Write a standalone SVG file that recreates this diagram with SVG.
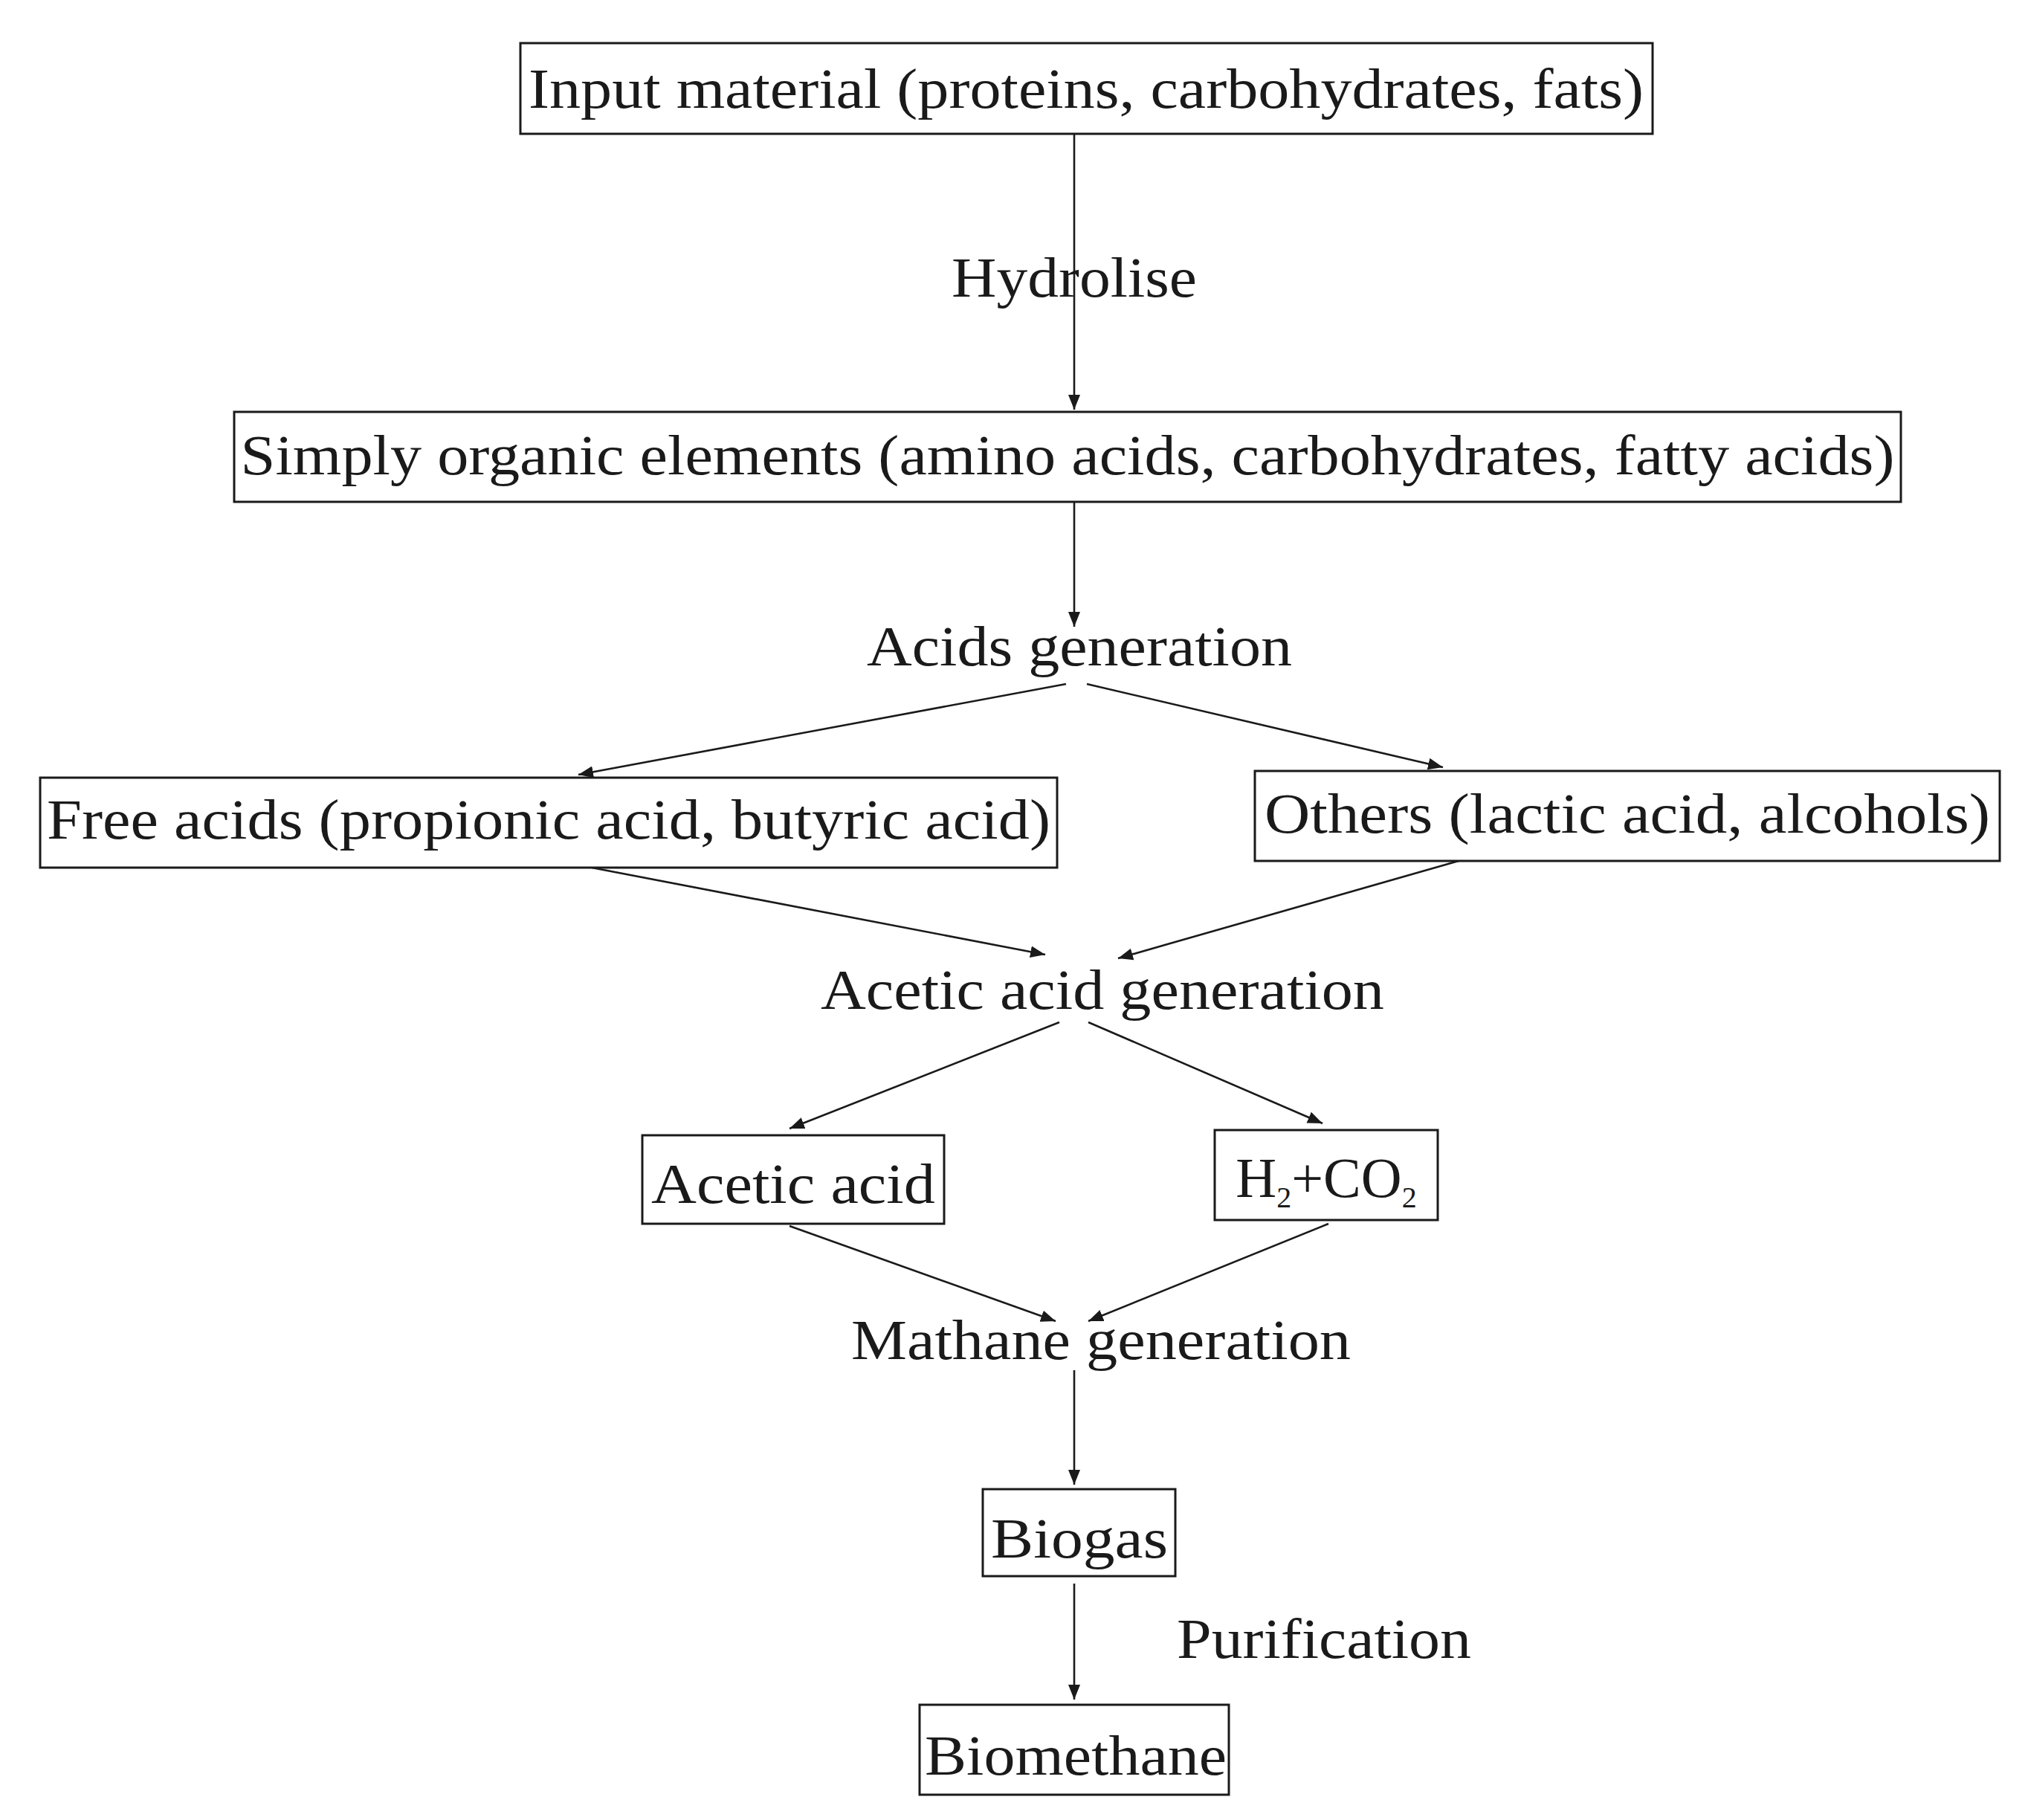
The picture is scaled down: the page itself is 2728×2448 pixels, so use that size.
<svg xmlns="http://www.w3.org/2000/svg" width="2728" height="2448" viewBox="0 0 2728 2448">
<style>
rect{fill:#fff;stroke:#1a1a1a;stroke-width:3}
text{font-family:"Liberation Serif","Times New Roman",serif;font-size:76px;fill:#1a1a1a;text-anchor:middle}
.c line{stroke:#1a1a1a;stroke-width:2.6;marker-end:url(#a)}
</style>
<defs><marker id="a" viewBox="0 0 10 10" refX="10" refY="5" markerWidth="8" markerHeight="8" markerUnits="userSpaceOnUse" orient="auto"><path d="M0,0 L10,5 L0,10 z" fill="#1a1a1a" transform="scale(1)"/></marker>
<marker id="b" viewBox="0 0 10 10" refX="10" refY="5" markerWidth="20" markerHeight="20" markerUnits="userSpaceOnUse" orient="auto"><path d="M0,1 L10,5 L0,9 z" fill="#1a1a1a"/></marker></defs>
<rect width="2728" height="2448" style="stroke:none"/>
<g class="c" id="connectors" style="--m:b">
<line x1="1445" y1="180" x2="1445" y2="551" style="marker-end:url(#b)"/>
<line x1="1445" y1="675" x2="1445" y2="843" style="marker-end:url(#b)"/>
<line x1="1434" y1="920" x2="778" y2="1042" style="marker-end:url(#b)"/>
<line x1="1462" y1="920" x2="1941" y2="1032" style="marker-end:url(#b)"/>
<line x1="796" y1="1167" x2="1406" y2="1284" style="marker-end:url(#b)"/>
<line x1="1976" y1="1154" x2="1504" y2="1289" style="marker-end:url(#b)"/>
<line x1="1425" y1="1375" x2="1062" y2="1518" style="marker-end:url(#b)"/>
<line x1="1464" y1="1375" x2="1779" y2="1511" style="marker-end:url(#b)"/>
<line x1="1062" y1="1649" x2="1420" y2="1777" style="marker-end:url(#b)"/>
<line x1="1787" y1="1646" x2="1464" y2="1777" style="marker-end:url(#b)"/>
<line x1="1445" y1="1843" x2="1445" y2="1997" style="marker-end:url(#b)"/>
<line x1="1445" y1="2130" x2="1445" y2="2286" style="marker-end:url(#b)"/>
</g>
<g id="input"><rect x="700" y="58" width="1523" height="122"/><text x="1461" y="145" textLength="1500" lengthAdjust="spacingAndGlyphs">Input material (proteins, carbohydrates, fats)</text></g>
<g id="hydrolise"><text x="1445" y="399" textLength="330" lengthAdjust="spacingAndGlyphs">Hydrolise</text></g>
<g id="simply"><rect x="315" y="554" width="2242" height="121"/><text x="1436" y="638" textLength="2225" lengthAdjust="spacingAndGlyphs">Simply organic elements (amino acids, carbohydrates, fatty acids)</text></g>
<g id="acidsgen"><text x="1452" y="895" textLength="572" lengthAdjust="spacingAndGlyphs">Acids generation</text></g>
<g id="free"><rect x="54" y="1046" width="1368" height="121"/><text x="738" y="1128" textLength="1350" lengthAdjust="spacingAndGlyphs">Free acids (propionic acid, butyric acid)</text></g>
<g id="others"><rect x="1688" y="1037" width="1002" height="121"/><text x="2189" y="1120" textLength="976" lengthAdjust="spacingAndGlyphs">Others (lactic acid, alcohols)</text></g>
<g id="aceticgen"><text x="1483" y="1357" textLength="758" lengthAdjust="spacingAndGlyphs">Acetic acid generation</text></g>
<g id="acetic"><rect x="864" y="1527" width="406" height="119"/><text x="1067" y="1618" textLength="382" lengthAdjust="spacingAndGlyphs">Acetic acid</text></g>
<g id="h2co2"><rect x="1634" y="1520" width="300" height="121"/><text x="1784" y="1610">H<tspan font-size="40" dy="14">2</tspan><tspan dy="-14">+CO</tspan><tspan font-size="40" dy="14">2</tspan></text></g>
<g id="methanegen"><text x="1481" y="1828" textLength="672" lengthAdjust="spacingAndGlyphs">Mathane generation</text></g>
<g id="biogas"><rect x="1322" y="2003" width="259" height="117"/><text x="1452" y="2095" textLength="238" lengthAdjust="spacingAndGlyphs">Biogas</text></g>
<g id="purification"><text x="1583" y="2230" style="text-anchor:start" textLength="396" lengthAdjust="spacingAndGlyphs">Purification</text></g>
<g id="biomethane"><rect x="1237" y="2293" width="416" height="121"/><text x="1447" y="2387" textLength="406" lengthAdjust="spacingAndGlyphs">Biomethane</text></g>
</svg>
